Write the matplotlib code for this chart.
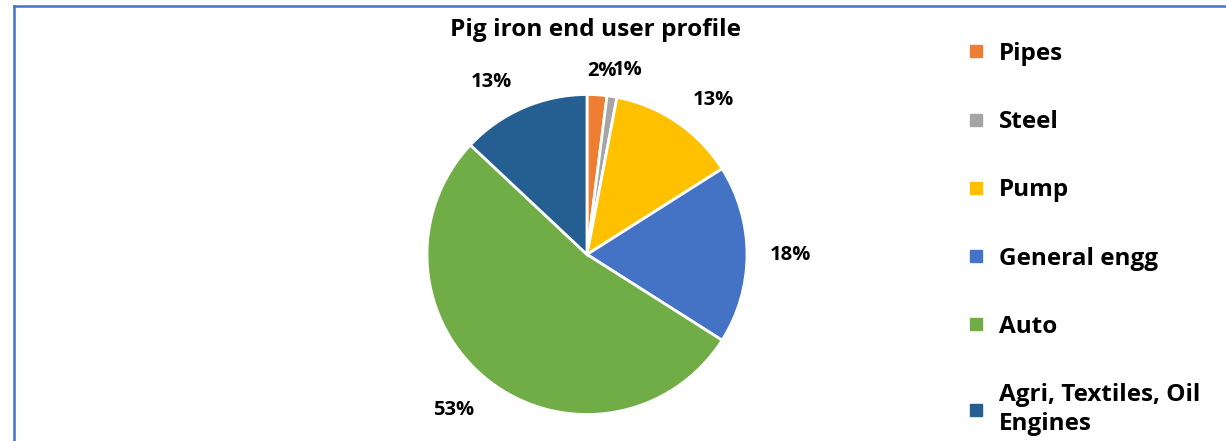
import numpy as np
import matplotlib
matplotlib.use("Agg")
import matplotlib.pyplot as plt
from matplotlib.lines import Line2D

categories = ["Pipes", "Steel", "Pump", "General engg", "Auto", "Agri, Textiles, Oil\nEngines"]
values = [2, 1, 13, 18, 53, 13]
colors = ["#ED7D31", "#A5A5A5", "#FFC000", "#4472C4", "#70AD47", "#255E91"]
label_dist = [1.15, 1.18, 1.25, 1.27, 1.28, 1.23]
label_shift = [-1.0, -3.5, -5.0, 0.0, -2.7, 5.6]  # degrees

plt.rcParams['font.family'] = ['Open Sans', 'DejaVu Sans']
plt.rcParams['font.weight'] = 'bold'

W, H = 1226, 441
fig = plt.figure(figsize=(W / 100, H / 100), dpi=100)

cx, cy, r = 587, 254.5, 160
ax = fig.add_axes([(cx - r) / W, (H - cy - r) / H, 2 * r / W, 2 * r / H])
wedges, texts, autotexts = ax.pie(values, colors=colors, startangle=90, counterclock=False,
                                  radius=1, autopct=lambda p: f"{p:.0f}%",
                                  wedgeprops=dict(edgecolor="white", linewidth=2),
                                  textprops=dict(fontsize=14.5, fontweight='bold', color='black'))
for w, t, d, s in zip(wedges, autotexts, label_dist, label_shift):
    ang = np.deg2rad((w.theta1 + w.theta2) / 2 + s)
    t.set_position((d * np.cos(ang), d * np.sin(ang)))
    t.set_ha('center'); t.set_va('center')
ax.set_xlim(-1, 1); ax.set_ylim(-1, 1)
ax.set_aspect('equal')

fig.text(595 / W, 1 - 30 / H, "Pig iron end user profile", ha='center', va='center',
         fontsize=17.6, fontweight='bold')

handles = [Line2D([], [], marker='s', linestyle='none', markersize=8.5, markerfacecolor=c,
                  markeredgecolor=c) for c in colors]
leg = fig.legend(handles, categories, loc='upper left', bbox_to_anchor=(944 / W, 1 - 20 / H),
                 frameon=False, labelspacing=1.82, handlelength=0.8,
                 handletextpad=0.55, prop=dict(weight='bold', size=17.5))
leg.get_texts()[-1].set_linespacing(1.3)

# border lines (left and top)
fig.add_artist(Line2D([14 / W, 14 / W], [0, 1 - 6 / H], color="#4472C4", lw=1.8,
                      transform=fig.transFigure))
fig.add_artist(Line2D([14 / W, 1], [1 - 6 / H, 1 - 6 / H], color="#4472C4", lw=1.8,
                      transform=fig.transFigure))

fig.savefig("out.png", dpi=100)
